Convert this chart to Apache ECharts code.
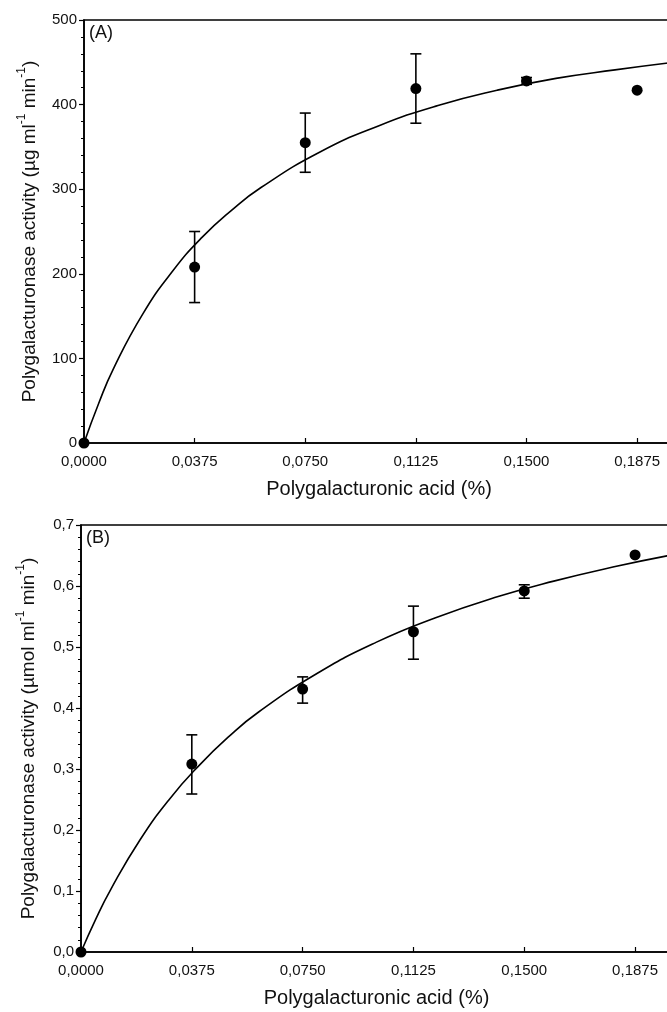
<!DOCTYPE html>
<html>
<head>
<meta charset="utf-8">
<script src="https://cdn.jsdelivr.net/npm/echarts@6/dist/echarts.min.js"></script>
<style>
  html, body { margin: 0; padding: 0; background: #fff; overflow: hidden; }
  #chart { width: 690px; height: 1012px; }
</style>
</head>
<body>
<div id="chart"></div>
<script>
// substrate concentration (%)
const conc = [0, 0.0375, 0.075, 0.1125, 0.15, 0.1875];

// panel A: µg ml-1 min-1
const actA = [0, 208, 355, 419, 428, 417];
const lowA = [0, 166, 320, 378, 424, 417];
const highA = [0, 250, 390, 460, 432, 417];
const fitXA = [0, 0.005, 0.01, 0.02, 0.03, 0.04, 0.05, 0.06, 0.08, 0.10, 0.12, 0.14, 0.16, 0.18, 0.20];
const fitYA = [0, 47, 88, 153, 203, 243, 275, 302, 344, 375, 399, 417, 431, 441, 450];

// panel B: µmol ml-1 min-1
const actB = [0, 0.308, 0.431, 0.525, 0.592, 0.651];
const lowB = [0, 0.259, 0.408, 0.480, 0.580, 0.651];
const highB = [0, 0.356, 0.451, 0.567, 0.602, 0.651];
const fitXB = [0, 0.005, 0.01, 0.02, 0.03, 0.04, 0.05, 0.06, 0.08, 0.10, 0.12, 0.14, 0.16, 0.18, 0.20];
const fitYB = [0, 0.054, 0.102, 0.184, 0.251, 0.306, 0.353, 0.393, 0.457, 0.508, 0.548, 0.581, 0.608, 0.631, 0.651];

const FONT = "'Liberation Sans', Arial, sans-serif";

function pairs(xs, ys) {
  return xs.map((x, i) => [x, ys[i]]);
}

function errData(lo, hi) {
  let out = [];
  for (let i = 0; i < conc.length; i++) {
    if (hi[i] - lo[i] > 0) out.push([conc[i], lo[i], hi[i]]);
  }
  return out;
}

function renderErr(params, api) {
  const lo = api.coord([api.value(0), api.value(1)]);
  const hi = api.coord([api.value(0), api.value(2)]);
  const w = 5.5;
  const style = { stroke: '#000', lineWidth: 1.6 };
  return {
    type: 'group',
    children: [
      { type: 'line', shape: { x1: lo[0], y1: lo[1], x2: hi[0], y2: hi[1] }, style: style },
      { type: 'line', shape: { x1: lo[0] - w, y1: lo[1], x2: lo[0] + w, y2: lo[1] }, style: style },
      { type: 'line', shape: { x1: hi[0] - w, y1: hi[1], x2: hi[0] + w, y2: hi[1] }, style: style }
    ]
  };
}

function xAxisFor(idx) {
  return {
    type: 'value',
    gridIndex: idx,
    min: 0,
    max: 0.2,
    interval: 0.0375,
    name: 'Polygalacturonic acid (%)',
    nameLocation: 'middle',
    nameGap: 36,
    nameTextStyle: { fontFamily: FONT, fontSize: 20, color: '#111' },
    axisLine: { lineStyle: { color: '#000', width: 1.6 } },
    axisTick: { inside: true, length: 5, lineStyle: { color: '#000', width: 1.2 } },
    axisLabel: {
      fontFamily: FONT, fontSize: 15, color: '#111', margin: 11,
      formatter: function (v) {
        if (Math.abs(v - 0.2) < 1e-9) return '';
        return v.toFixed(4).replace('.', ',');
      }
    },
    splitLine: { show: false }
  };
}

// y axis title with raised "-1"
const supRich = {
  t: { fontFamily: FONT, fontSize: 19, color: '#111', lineHeight: 23, verticalAlign: 'bottom' },
  s: { fontFamily: FONT, fontSize: 12, color: '#111', lineHeight: 23, verticalAlign: 'top' }
};

function yAxisFor(idx, max, interval, digits, name, gap) {
  return {
    type: 'value',
    gridIndex: idx,
    min: 0,
    max: max,
    interval: interval,
    name: name,
    nameLocation: 'middle',
    nameGap: gap,
    nameTextStyle: { rich: supRich },
    axisLine: { lineStyle: { color: '#000', width: 1.6 } },
    axisTick: { inside: false, length: 5, lineStyle: { color: '#000', width: 1.2 } },
    minorTick: { show: true, splitNumber: 5, length: 3, lineStyle: { color: '#000', width: 1 } },
    axisLabel: {
      fontFamily: FONT, fontSize: 15, color: '#111', margin: 7,
      formatter: function (v) { return v.toFixed(digits).replace('.', ','); }
    },
    splitLine: { show: false }
  };
}

const chart = echarts.init(document.getElementById('chart'));
chart.setOption({
  backgroundColor: '#fff',
  animation: false,
  grid: [
    { left: 84, top: 20, width: 590, height: 423, show: true, borderColor: '#000', borderWidth: 1.6 },
    { left: 81, top: 525, width: 591, height: 427, show: true, borderColor: '#000', borderWidth: 1.6 }
  ],
  xAxis: [xAxisFor(0), xAxisFor(1)],
  yAxis: [
    yAxisFor(0, 500, 100, 0, '{t|Polygalacturonase activity (µg ml}{s|-1}{t| min}{s|-1}{t|)}', 45),
    yAxisFor(1, 0.7, 0.1, 1, '{t|Polygalacturonase activity (µmol ml}{s|-1}{t| min}{s|-1}{t|)}', 43)
  ],
  graphic: [
    { type: 'text', left: 89, top: 24, style: { text: '(A)', font: '18px ' + FONT, fill: '#111' } },
    { type: 'text', left: 86, top: 529, style: { text: '(B)', font: '18px ' + FONT, fill: '#111' } }
  ],
  series: [
    {
      type: 'line', xAxisIndex: 0, yAxisIndex: 0, data: pairs(fitXA, fitYA),
      smooth: true, showSymbol: false, lineStyle: { color: '#000', width: 1.6 }
    },
    {
      type: 'custom', xAxisIndex: 0, yAxisIndex: 0, data: errData(lowA, highA),
      renderItem: renderErr, clip: false
    },
    {
      type: 'scatter', xAxisIndex: 0, yAxisIndex: 0, data: pairs(conc, actA),
      symbol: 'circle', symbolSize: 11, itemStyle: { color: '#000', opacity: 1 }, clip: false
    },
    {
      type: 'line', xAxisIndex: 1, yAxisIndex: 1, data: pairs(fitXB, fitYB),
      smooth: true, showSymbol: false, lineStyle: { color: '#000', width: 1.6 }
    },
    {
      type: 'custom', xAxisIndex: 1, yAxisIndex: 1, data: errData(lowB, highB),
      renderItem: renderErr, clip: false
    },
    {
      type: 'scatter', xAxisIndex: 1, yAxisIndex: 1, data: pairs(conc, actB),
      symbol: 'circle', symbolSize: 11, itemStyle: { color: '#000', opacity: 1 }, clip: false
    }
  ]
});
</script>
</body>
</html>
